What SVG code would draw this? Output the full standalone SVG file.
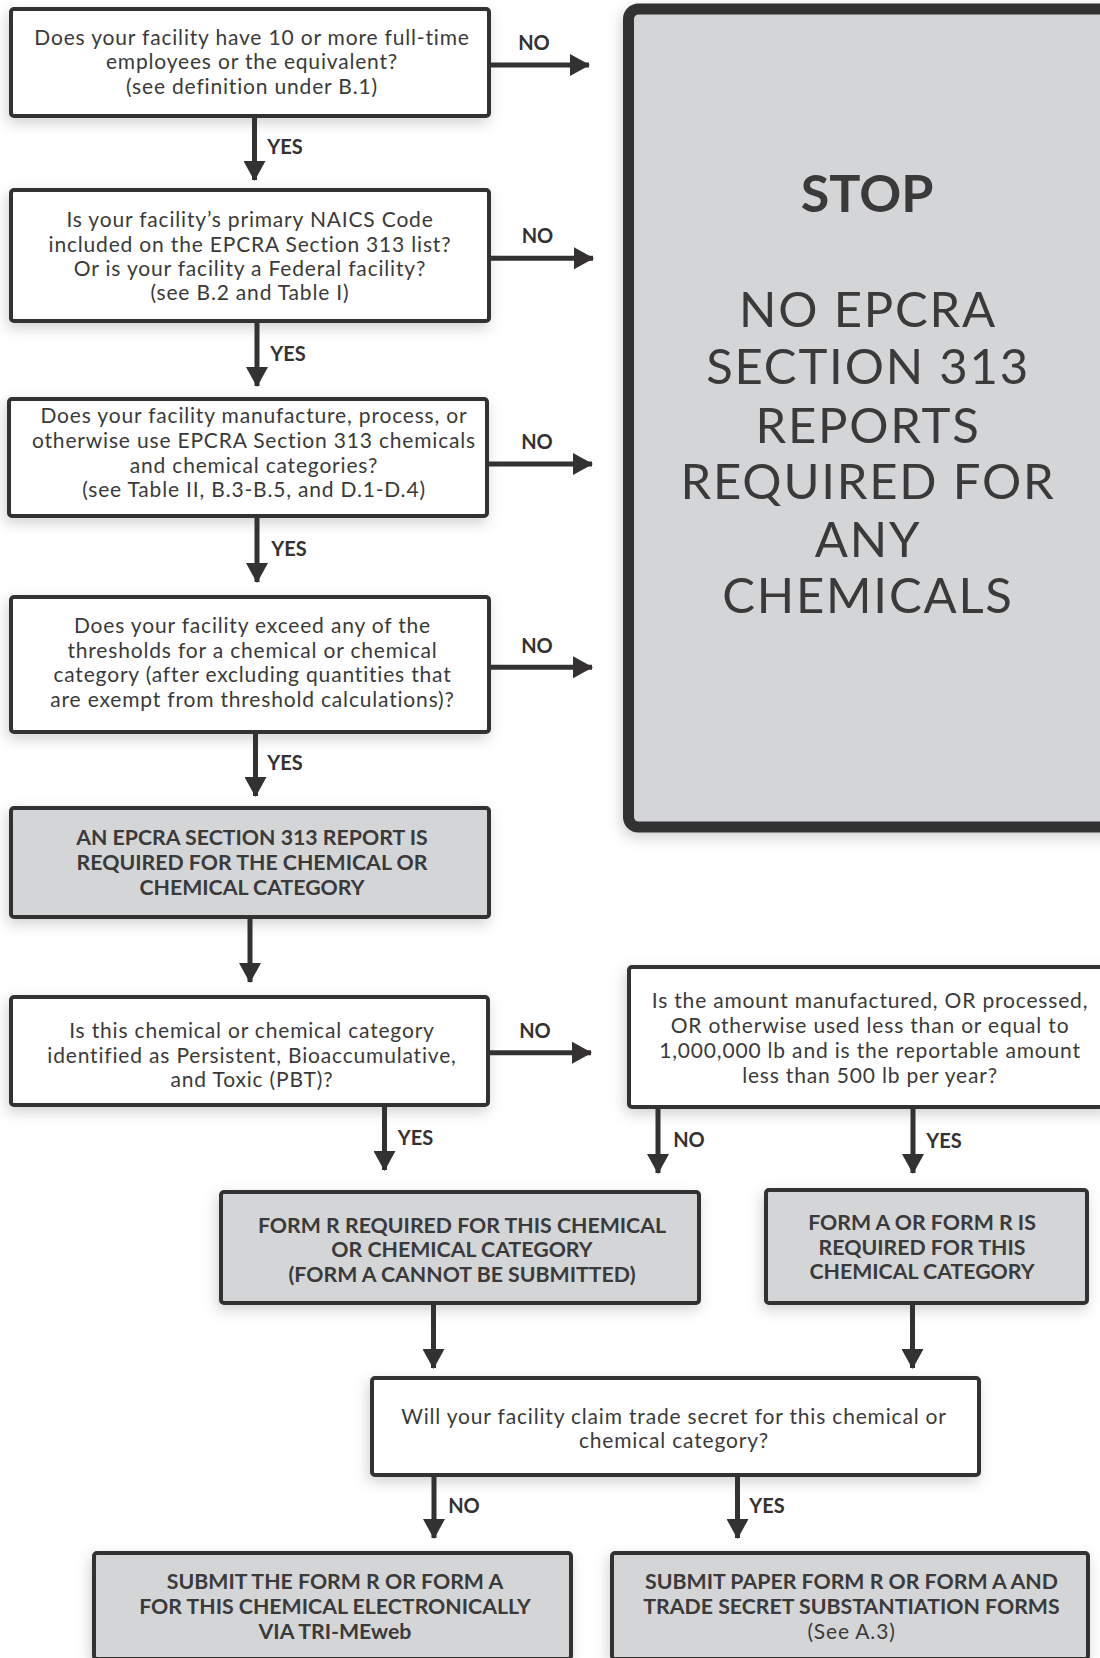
<svg xmlns="http://www.w3.org/2000/svg" width="1100" height="1658" viewBox="0 0 1100 1658">
<defs>
<style>
.box{fill:#ffffff;stroke:#333132;stroke-width:4;}
.gbox{fill:#d4d5d7;stroke:#333132;stroke-width:4;}
.t{font-family:Lato,"Open Sans","Liberation Sans",sans-serif;font-size:21px;letter-spacing:0.82px;fill:#3a3a3a;text-anchor:middle;}
.b{font-family:Lato,"Open Sans","Liberation Sans",sans-serif;font-size:21.3px;font-weight:bold;fill:#3a3a3a;text-anchor:middle;}
.big{font-family:Lato,"Open Sans","Liberation Sans",sans-serif;font-size:49px;letter-spacing:1.8px;fill:#3a3a3a;text-anchor:middle;}
.stp{font-family:Lato,"Open Sans","Liberation Sans",sans-serif;font-size:52px;font-weight:bold;fill:#3a3a3a;text-anchor:middle;}
.lbl{font-family:Lato,"Open Sans","Liberation Sans",sans-serif;font-size:20px;font-weight:bold;fill:#333132;text-anchor:middle;}
.conn path{stroke:#333132;stroke-width:5;fill:none;marker-end:url(#ah);}
</style>
<marker id="ah" markerUnits="userSpaceOnUse" viewBox="0 0 20 22" markerWidth="20" markerHeight="22" refX="19" refY="11" orient="auto">
<path d="M0,0 L20,11 L0,22 Z" fill="#333132"/>
</marker>
<filter id="sh" x="-10%" y="-10%" width="125%" height="130%">
<feDropShadow dx="-2" dy="5" stdDeviation="7" flood-color="#000" flood-opacity="0.18"/>
</filter>
</defs>
<rect width="1100" height="1658" fill="#ffffff"/>

<g id="stop">
<rect x="628.5" y="9" width="490" height="818" rx="10" fill="#d4d5d7" stroke="#333132" stroke-width="11" filter="url(#sh)"/>
<text class="stp" x="867" y="212">STOP</text>
<text class="big" x="868" y="327">NO EPCRA</text>
<text class="big" x="868" y="384">SECTION 313</text>
<text class="big" x="868" y="442.7">REPORTS</text>
<text class="big" x="868" y="499.3">REQUIRED FOR</text>
<text class="big" x="868" y="556.7">ANY</text>
<text class="big" x="868" y="613.3">CHEMICALS</text>
</g>

<g id="q1">
<rect class="box" x="11" y="9" width="478" height="107" rx="3" filter="url(#sh)"/>
<text class="t" x="252" y="45">Does your facility have 10 or more full-time</text>
<text class="t" x="252" y="69.3">employees or the equivalent?</text>
<text class="t" x="252" y="94">(see definition under B.1)</text>
</g>

<g id="q2">
<rect class="box" x="11" y="190" width="478" height="131" rx="3" filter="url(#sh)"/>
<text class="t" x="250" y="226.7">Is your facility’s primary NAICS Code</text>
<text class="t" x="250" y="251.7">included on the EPCRA Section 313 list?</text>
<text class="t" x="250" y="276">Or is your facility a Federal facility?</text>
<text class="t" x="250" y="300">(see B.2 and Table I)</text>
</g>

<g id="q3">
<rect class="box" x="9" y="399" width="478" height="117" rx="3" filter="url(#sh)"/>
<text class="t" x="254" y="423.3">Does your facility manufacture, process, or</text>
<text class="t" x="254" y="448.3">otherwise use EPCRA Section 313 chemicals</text>
<text class="t" x="254" y="472.7">and chemical categories?</text>
<text class="t" x="254" y="497.3">(see Table II, B.3-B.5, and D.1-D.4)</text>
</g>

<g id="q4">
<rect class="box" x="11" y="597" width="478" height="135" rx="3" filter="url(#sh)"/>
<text class="t" x="252.5" y="633.3">Does your facility exceed any of the</text>
<text class="t" x="252.5" y="657.7">thresholds for a chemical or chemical</text>
<text class="t" x="252.5" y="681.7">category (after excluding quantities that</text>
<text class="t" x="252.5" y="706.7">are exempt from threshold calculations)?</text>
</g>

<g id="r1">
<rect class="gbox" x="11" y="808" width="478" height="109" rx="3" filter="url(#sh)"/>
<text class="b" x="252" y="845">AN EPCRA SECTION 313 REPORT IS</text>
<text class="b" x="252" y="870">REQUIRED FOR THE CHEMICAL OR</text>
<text class="b" x="252" y="895">CHEMICAL CATEGORY</text>
</g>

<g id="q5">
<rect class="box" x="11" y="997" width="477" height="108" rx="3" filter="url(#sh)"/>
<text class="t" x="252" y="1038">Is this chemical or chemical category</text>
<text class="t" x="252" y="1062.7">identified as Persistent, Bioaccumulative,</text>
<text class="t" x="252" y="1087">and Toxic (PBT)?</text>
</g>

<g id="q6">
<rect class="box" x="629" y="967" width="480" height="140" rx="3" filter="url(#sh)"/>
<text class="t" x="870" y="1008">Is the amount manufactured, OR processed,</text>
<text class="t" x="870" y="1033">OR otherwise used less than or equal to</text>
<text class="t" x="870" y="1058">1,000,000 lb and is the reportable amount</text>
<text class="t" x="870" y="1082.7">less than 500 lb per year?</text>
</g>

<g id="r2">
<rect class="gbox" x="221" y="1192" width="478" height="111" rx="3" filter="url(#sh)"/>
<text class="b" x="462" y="1232.7">FORM R REQUIRED FOR THIS CHEMICAL</text>
<text class="b" x="462" y="1256.7">OR CHEMICAL CATEGORY</text>
<text class="b" x="462" y="1281.7">(FORM A CANNOT BE SUBMITTED)</text>
</g>

<g id="r3">
<rect class="gbox" x="766" y="1190" width="321" height="113" rx="3" filter="url(#sh)"/>
<text class="b" x="922" y="1230">FORM A OR FORM R IS</text>
<text class="b" x="922" y="1255">REQUIRED FOR THIS</text>
<text class="b" x="922" y="1279.3">CHEMICAL CATEGORY</text>
</g>

<g id="q7">
<rect class="box" x="372" y="1378" width="607" height="97" rx="3" filter="url(#sh)"/>
<text class="t" x="674" y="1424">Will your facility claim trade secret for this chemical or</text>
<text class="t" x="674" y="1448.3">chemical category?</text>
</g>

<g id="r4">
<rect class="gbox" x="94" y="1553" width="477" height="106" rx="3" filter="url(#sh)"/>
<text class="b" x="335" y="1589.3">SUBMIT THE FORM R OR FORM A</text>
<text class="b" x="335" y="1614">FOR THIS CHEMICAL ELECTRONICALLY</text>
<text class="b" x="335" y="1639">VIA TRI-MEweb</text>
</g>

<g id="r5">
<rect class="gbox" x="612" y="1553" width="476" height="106" rx="3" filter="url(#sh)"/>
<text class="b" x="851.5" y="1589.3">SUBMIT PAPER FORM R OR FORM A AND</text>
<text class="b" x="851.5" y="1614">TRADE SECRET SUBSTANTIATION FORMS</text>
<text class="t" x="851.5" y="1639">(See A.3)</text>
</g>

<g id="connectors" class="conn">
<path d="M489,65 H589"/>
<path d="M489,258.3 H593"/>
<path d="M487,464 H592"/>
<path d="M489,667.3 H592"/>
<path d="M488,1052.7 H591"/>
<path d="M254.5,116 V180"/>
<path d="M257,321 V386"/>
<path d="M257,516 V582"/>
<path d="M255.5,732 V796"/>
<path d="M250,917 V982"/>
<path d="M384.5,1105 V1170"/>
<path d="M658,1107 V1173"/>
<path d="M913,1107 V1173"/>
<path d="M433.5,1303 V1368"/>
<path d="M912.5,1303 V1368"/>
<path d="M434,1475 V1538"/>
<path d="M737.5,1475 V1538"/>
</g>

<g id="labels">
<text class="lbl" x="534" y="50">NO</text>
<text class="lbl" x="537.5" y="243.3">NO</text>
<text class="lbl" x="537" y="449.3">NO</text>
<text class="lbl" x="537" y="652.7">NO</text>
<text class="lbl" x="535" y="1038">NO</text>
<text class="lbl" x="285" y="154">YES</text>
<text class="lbl" x="288" y="361">YES</text>
<text class="lbl" x="289" y="556">YES</text>
<text class="lbl" x="285" y="770">YES</text>
<text class="lbl" x="415.5" y="1145">YES</text>
<text class="lbl" x="689" y="1147">NO</text>
<text class="lbl" x="944" y="1148">YES</text>
<text class="lbl" x="464" y="1513">NO</text>
<text class="lbl" x="767" y="1513">YES</text>
</g>
</svg>
